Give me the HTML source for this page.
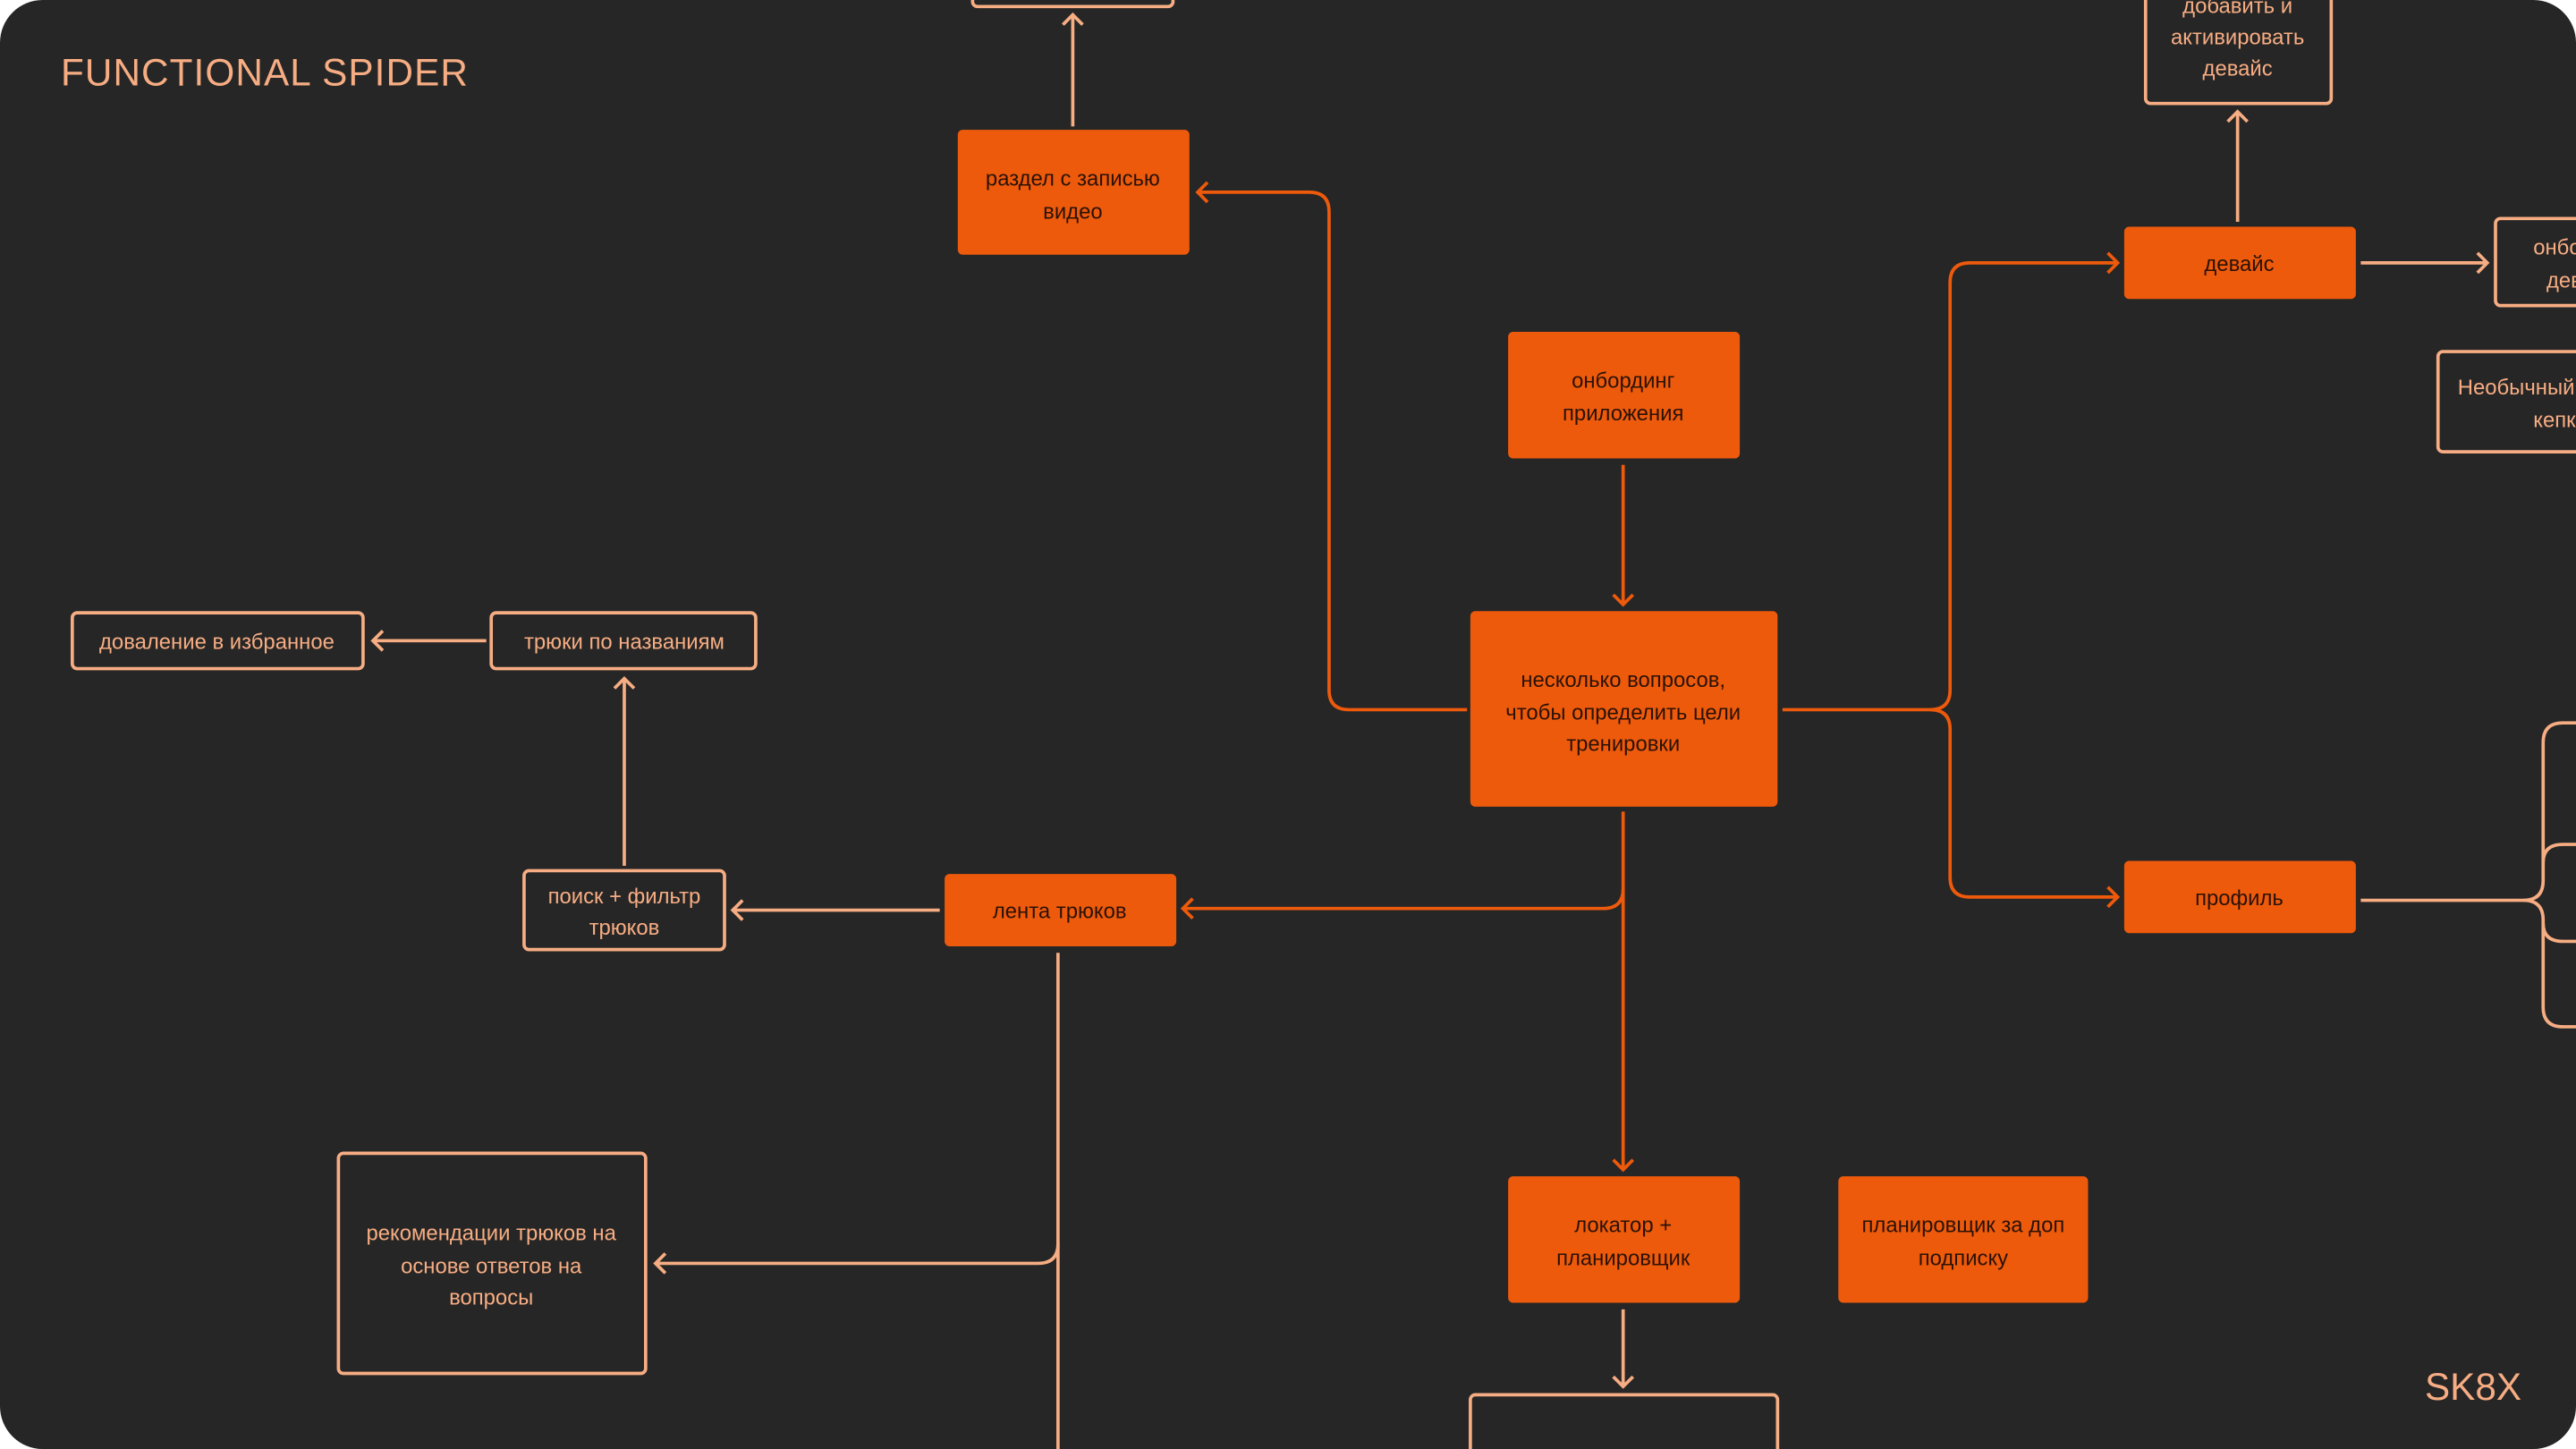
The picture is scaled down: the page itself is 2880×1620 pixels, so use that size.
<!DOCTYPE html>
<html><head><meta charset="utf-8"><style>
html,body{margin:0;padding:0;background:#fff;width:2880px;height:1620px;overflow:hidden}
svg{display:block}
text{font-family:"Liberation Sans","DejaVu Sans",sans-serif;font-size:13px;text-anchor:middle}
.d{fill:#2a1206}
.p{fill:#f7ad83}
.or{fill:#ee5a0c}
.ob{fill:none;stroke:#f7ad83;stroke-width:2}
.lo{fill:none;stroke:#ee5a0c;stroke-width:2}
.lp{fill:none;stroke:#f7ad83;stroke-width:2}
</style></head><body>
<svg width="2880" height="1620" viewBox="0 0 1568 882" xmlns="http://www.w3.org/2000/svg">
<defs><clipPath id="c"><rect x="0" y="0" width="1568" height="882" rx="26"/></clipPath></defs>
<g clip-path="url(#c)">
<rect x="0" y="0" width="1568" height="882" fill="#262626"/>
<text x="37" y="52" class="p" style="font-size:23px;text-anchor:start;letter-spacing:0.6px">FUNCTIONAL SPIDER</text>
<text x="1476" y="852" class="p" style="font-size:23px;text-anchor:start">SK8X</text>

<rect x="592" y="-12" width="122" height="16" rx="3" class="ob"/>
<path d="M653 77V9M647 15L653 9L659 15" class="lp"/>
<rect x="583" y="79" width="141" height="76" rx="3" class="or"/>
<text x="653" y="113" class="d">раздел с записью</text>
<text x="653" y="133" class="d">видео</text>

<path d="M893 432H821Q809 432 809 420V129Q809 117 797 117H729M735 111L729 117L735 123" class="lo"/>

<rect x="918" y="202" width="141" height="77" rx="3" class="or"/>
<text x="988" y="236" class="d">онбординг</text>
<text x="988" y="256" class="d">приложения</text>
<path d="M988 283V368M982 362L988 368L994 362" class="lo"/>

<rect x="895" y="372" width="187" height="119" rx="3" class="or"/>
<text x="988" y="418" class="d">несколько вопросов,</text>
<text x="988" y="438" class="d">чтобы определить цели</text>
<text x="988" y="457" class="d">тренировки</text>

<path d="M1085 432H1175Q1187 432 1187 420V172Q1187 160 1199 160H1289M1283 154L1289 160L1283 166" class="lo"/>
<path d="M1175 432Q1187 432 1187 444V534Q1187 546 1199 546H1289M1283 540L1289 546L1283 552" class="lo"/>

<rect x="1293" y="138" width="141" height="44" rx="3" class="or"/>
<text x="1363" y="165" class="d">девайс</text>
<rect x="1293" y="524" width="141" height="44" rx="3" class="or"/>
<text x="1363" y="551" class="d">профиль</text>

<path d="M1362 135V68M1356 74L1362 68L1368 74" class="lp"/>
<rect x="1306" y="-12" width="113" height="75" rx="3" class="ob"/>
<text x="1362" y="8" class="p">добавить и</text>
<text x="1362" y="27" class="p">активировать</text>
<text x="1362" y="46" class="p">девайс</text>

<path d="M1437 160H1514M1508 154L1514 160L1508 166" class="lp"/>
<rect x="1519" y="133" width="80" height="53" rx="3" class="ob"/>
<text x="1542" y="155" class="p" style="text-anchor:start">онбординг</text>
<text x="1550" y="175" class="p" style="text-anchor:start">девайса</text>

<rect x="1484" y="214" width="120" height="61" rx="3" class="ob"/>
<text x="1496" y="240" class="p" style="text-anchor:start">Необычный</text>
<text x="1542" y="260" class="p" style="text-anchor:start">кепка</text>

<path d="M1437 548H1536Q1548 548 1548 536V452Q1548 440 1560 440H1570" class="lp"/>
<path d="M1536 548Q1548 548 1548 560V613Q1548 625 1560 625H1570" class="lp"/>
<path d="M1548 525Q1548 514 1560 514H1570M1548 562Q1548 573 1560 573H1570" class="lp"/>

<path d="M988 494V541Q988 553 976 553H720M726 547L720 553L726 559" class="lo"/>
<path d="M988 541V712M982 706L988 712L994 706" class="lo"/>

<rect x="918" y="716" width="141" height="77" rx="3" class="or"/>
<text x="988" y="750" class="d">локатор +</text>
<text x="988" y="770" class="d">планировщик</text>
<rect x="1119" y="716" width="152" height="77" rx="3" class="or"/>
<text x="1195" y="750" class="d">планировщик за доп</text>
<text x="1195" y="770" class="d">подписку</text>
<path d="M988 797V844M982 838L988 844L994 838" class="lp"/>
<rect x="895" y="849" width="187" height="60" rx="3" class="ob"/>

<rect x="575" y="532" width="141" height="44" rx="3" class="or"/>
<text x="645" y="559" class="d">лента трюков</text>
<path d="M572 554H446M452 548L446 554L452 560" class="lp"/>
<rect x="319" y="530" width="122" height="48" rx="3" class="ob"/>
<text x="380" y="550" class="p">поиск + фильтр</text>
<text x="380" y="569" class="p">трюков</text>
<path d="M380 527V413M374 419L380 413L386 419" class="lp"/>
<rect x="299" y="373" width="161" height="34" rx="3" class="ob"/>
<text x="380" y="395" class="p">трюки по названиям</text>
<path d="M296 390H227M233 384L227 390L233 396" class="lp"/>
<rect x="44" y="373" width="177" height="34" rx="3" class="ob"/>
<text x="132" y="395" class="p">доваление в избранное</text>

<path d="M644 580V890" class="lp"/>
<path d="M644 757Q644 769 632 769H399M405 763L399 769L405 775" class="lp"/>
<rect x="206" y="702" width="187" height="134" rx="3" class="ob"/>
<text x="299" y="755" class="p">рекомендации трюков на</text>
<text x="299" y="775" class="p">основе ответов на</text>
<text x="299" y="794" class="p">вопросы</text>
</g>
</svg>
</body></html>
